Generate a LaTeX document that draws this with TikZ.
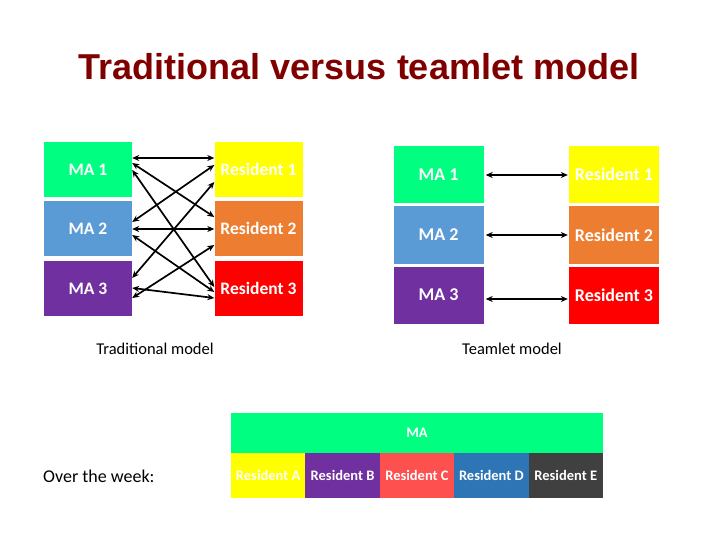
\documentclass[tikz,border=0pt]{standalone}
\usepackage{fontspec}
\usepackage{xcolor}
\usepackage{tikz}
\usetikzlibrary{arrows.meta}
\setmainfont{Carlito}
\newfontfamily\titlefont{Liberation Sans}
\definecolor{maGreen}{RGB}{0,255,128}
\definecolor{maBlue}{RGB}{91,155,213}
\definecolor{maPurple}{RGB}{112,48,160}
\definecolor{resYellow}{RGB}{255,255,0}
\definecolor{resOrange}{RGB}{237,125,49}
\definecolor{resRed}{RGB}{255,0,0}
\definecolor{resPink}{RGB}{255,80,80}
\definecolor{resBlue}{RGB}{46,117,182}
\definecolor{resGrey}{RGB}{64,64,64}
\definecolor{titleRed}{RGB}{128,0,0}

\begin{document}
\begin{tikzpicture}[x=1pt, y=-1pt,
    box/.style={inner sep=0pt, minimum width=88pt, minimum height=55pt, text=white, font=\fontsize{17.5}{19}\selectfont\bfseries},
    wbox/.style={box, minimum width=90pt, minimum height=57pt, font=\fontsize{18}{20}\selectfont\bfseries},
    strip/.style={inner sep=0pt, minimum width=74.4pt, minimum height=45pt, text=white, font=\fontsize{14.5}{16}\selectfont\bfseries},
    arr/.style={{Stealth[length=7pt,width=6pt]}-{Stealth[length=7pt,width=6pt]}, line width=1.7pt},
    lbl/.style={font=\fontsize{16.5}{18}\selectfont}
]
    \useasboundingbox (0,0) rectangle (720,540);

    \node[font=\titlefont\fontsize{36}{40}\selectfont\bfseries, text=titleRed] (title) at (359,67) {Traditional versus teamlet model};

    % traditional model
    \node[box, fill=maGreen] (ma1) at (88,169.5) {MA 1};
    \node[box, fill=maBlue] (ma2) at (88,228.5) {MA 2};
    \node[box, fill=maPurple] (ma3) at (88,288.5) {MA 3};
    \node[box, fill=resYellow] (res1) at (258.5,169.5) {Resident 1};
    \node[box, fill=resOrange] (res2) at (258.5,228.5) {Resident 2};
    \node[box, fill=resRed] (res3) at (258.5,288.5) {Resident 3};

    \draw[arr] ([yshift=11.5pt]ma1.east) -- ([yshift=11.5pt]res1.west);
    \draw[arr] ([yshift=6.5pt]ma1.east) -- ([yshift=11.5pt]res2.west);
    \draw[arr] ([yshift=-0.5pt]ma1.east) -- ([yshift=1.5pt]res3.west);
    \draw[arr] ([yshift=6.5pt]ma2.east) -- ([yshift=4.5pt]res1.west);
    \draw[arr] ([yshift=-0.5pt]ma2.east) -- ([yshift=-0.5pt]res2.west);
    \draw[arr] ([yshift=-6.5pt]ma2.east) -- ([yshift=-3.5pt]res3.west);
    \draw[arr] ([yshift=10.5pt]ma3.east) -- ([yshift=-12.5pt]res1.west);
    \draw[arr] ([yshift=0.5pt]ma3.east) -- ([yshift=-9.5pt]res3.west);
    \draw[arr] ([yshift=-9.5pt]ma3.east) -- ([yshift=-16.5pt]res2.west);

    \node[lbl] (tradlbl) at (155,349) {Traditional model};

    % teamlet model
    \node[wbox, fill=maGreen] (tma1) at (438.5,174.5) {MA 1};
    \node[wbox, fill=maBlue] (tma2) at (438.5,235) {MA 2};
    \node[wbox, fill=maPurple] (tma3) at (438.5,295) {MA 3};
    \node[wbox, fill=resYellow] (tres1) at (614,174.5) {Resident 1};
    \node[wbox, fill=resOrange] (tres2) at (614,235) {Resident 2};
    \node[wbox, fill=resRed] (tres3) at (614,295) {Resident 3};

    \draw[arr] ([xshift=2pt,yshift=-0.5pt]tma1.east) -- ([xshift=-1pt,yshift=-0.5pt]tres1.west);
    \draw[arr] ([xshift=2pt]tma2.east) -- ([xshift=-1pt]tres2.west);
    \draw[arr] ([xshift=2pt,yshift=-4pt]tma3.east) -- ([xshift=-1pt,yshift=-4pt]tres3.west);

    \node[lbl] (teamlbl) at (512,349) {Teamlet model};

    % over the week
    \node[lbl, font=\fontsize{18}{20}\selectfont, anchor=west, inner sep=0pt] (week) at (43,476) {Over the week:};
    \node[strip, fill=maGreen, minimum width=372pt, minimum height=40pt] (ma) at (417,433) {MA};
    \node[strip, fill=resYellow] (resA) at (268.2,475.5) {Resident A};
    \node[strip, fill=maPurple] (resB) at (342.6,475.5) {Resident B};
    \node[strip, fill=resPink] (resC) at (417,475.5) {Resident C};
    \node[strip, fill=resBlue] (resD) at (491.4,475.5) {Resident D};
    \node[strip, fill=resGrey] (resE) at (565.8,475.5) {Resident E};
\end{tikzpicture}
\end{document}
